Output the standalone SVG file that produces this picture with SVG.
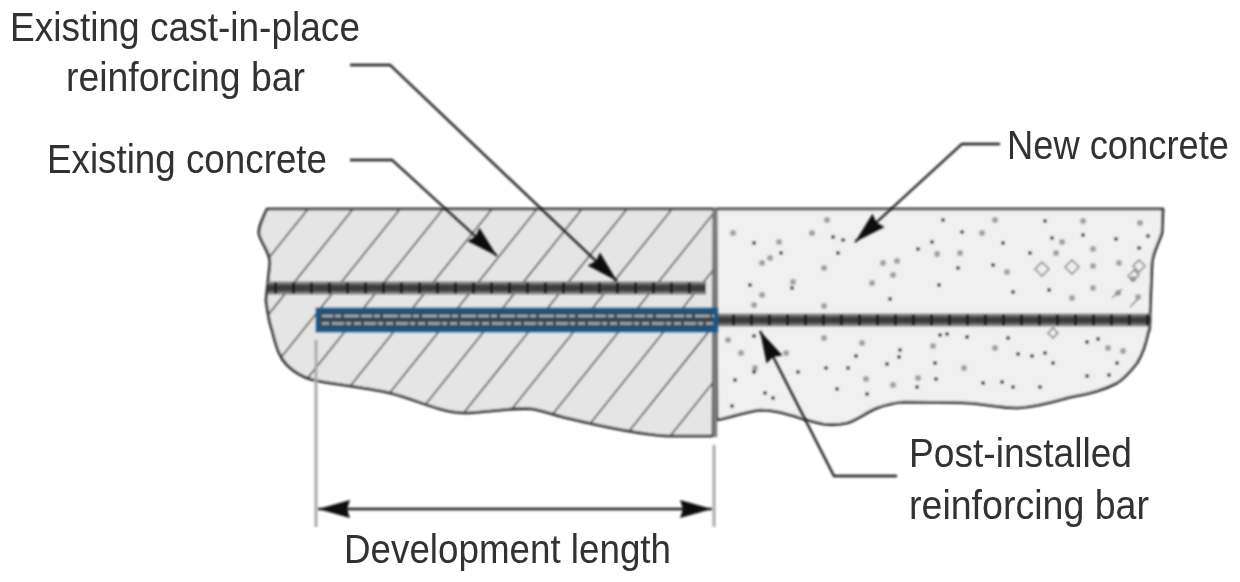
<svg xmlns="http://www.w3.org/2000/svg" width="1240" height="582" viewBox="0 0 1240 582">
<style>
text{font-family:"Liberation Sans",Arial,sans-serif;font-size:40px;fill:#303030}
.out{stroke:#1c1c1c;stroke-width:2.6;stroke-linejoin:round}
.hatch{stroke:#444;stroke-width:1.6;fill:none}
.lead{stroke:#1c1c1c;stroke-width:2.3;fill:none}
.ext{stroke:#aaa;stroke-width:3;fill:none}
.bandcore{stroke:#3e3e3e;stroke-width:7}
.bandhalo{stroke:#7c7c7c;stroke-width:13}
.ribs{stroke:#1c1c1c;stroke-width:3;stroke-dasharray:3 15}
</style>
<defs>
<filter id="soft" x="-5%" y="-5%" width="110%" height="110%"><feGaussianBlur stdDeviation="0.8"/></filter>
<filter id="softtext" x="-5%" y="-20%" width="110%" height="140%"><feGaussianBlur stdDeviation="0.75"/></filter>
<clipPath id="leftClip"><path d="M267 209C262 220 258 228 259 234C262 245 270 252 270 263L266 300C268 315 270 325 272 330C277 350 280 358 287 365C295 373 302 377 313 380C345 386 370 388 390 393C410 398 425 405 440 409C450 412 458 413 467 413C490 412 515 407 533 409C547 412 555 415 567 418C600 426 635 434 667 436L713 436L714 209Z"/></clipPath>
<marker id="ah" markerUnits="userSpaceOnUse" markerWidth="34" markerHeight="20" refX="32" refY="10" orient="auto"><path d="M0 1L32 10L0 19L3 10Z" fill="#0c0c0c"/></marker>
</defs>
<rect width="1240" height="582" fill="#fff"/>
<g filter="url(#soft)">
<g id="existing-concrete-body">
<path class="out" fill="#e5e5e5" d="M267 209C262 220 258 228 259 234C262 245 270 252 270 263L266 300C268 315 270 325 272 330C277 350 280 358 287 365C295 373 302 377 313 380C345 386 370 388 390 393C410 398 425 405 440 409C450 412 458 413 467 413C490 412 515 407 533 409C547 412 555 415 567 418C600 426 635 434 667 436L713 436L714 209Z"/>
<g clip-path="url(#leftClip)">
<path class="hatch" d="M308 209L123 440M353 209L168 440M400 209L215 440M443 209L258 440M492 209L307 440M537 209L352 440M582 209L397 440M627 209L442 440M672 209L487 440M717 209L532 440M762 209L577 440M807 209L622 440M852 209L667 440M897 209L712 440M942 209L757 440"/>
</g>
</g>
<g id="new-concrete-body">
<path class="out" fill="#f0f0f0" d="M716 209L1163 209L1162 233C1158 245 1153 252 1152 263L1150 313C1150 325 1150 330 1148 333C1145 348 1142 355 1137 363C1130 372 1125 378 1117 383C1100 392 1085 394 1067 398C1050 403 1035 407 1017 408C1000 408 985 404 967 403C945 402 925 402 903 402C893 403 885 405 877 408C865 413 857 420 847 423C838 425 830 425 823 424C813 422 808 420 800 418C787 414 775 410 760 410C745 412 732 417 717 420Z"/>
<path fill="none" stroke="#a0a0a0" stroke-width="6" stroke-linecap="round" d="M733 233h.1M779 242h.1M812 233h.1M827 220h.1M770 258h.1M762 263h.1M824 268h.1M793 282h.1M872 283h.1M762 295h.1M754 305h.1M824 306h.1M883 263h.1M897 261h.1M893 275h.1M982 233h.1M995 220h.1M960 253h.1M937 254h.1M1007 272h.1M1062 242h.1M1056 253h.1M1093 249h.1M1083 221h.1M1140 223h.1M1072 298h.1M1093 288h.1M1093 266h.1M1119 263h.1M728 340h.1M741 353h.1M786 353h.1M824 338h.1M862 343h.1M933 346h.1M995 348h.1M1108 348h.1M1123 351h.1M964 368h.1M918 378h.1M893 385h.1M755 368h.1M1133 279h.1M1138 297h.1M1118 293h.1M866 379h.1"/>
<path fill="none" stroke="#333" stroke-width="4" stroke-linecap="round" d="M754 243h.1M781 253h.1M750 285h.1M792 288h.1M838 253h.1M833 237h.1M843 240h.1M932 242h.1M918 249h.1M1003 243h.1M1030 253h.1M1052 238h.1M1083 235h.1M1116 239h.1M1139 248h.1M1148 236h.1M1045 221h.1M943 220h.1M962 232h.1M993 265h.1M958 268h.1M939 285h.1M890 299h.1M1013 292h.1M1049 290h.1M754 336h.1M967 337h.1M1008 338h.1M947 334h.1M1087 342h.1M1098 339h.1M1045 353h.1M1053 363h.1M1018 354h.1M1032 356h.1M1117 363h.1M1087 376h.1M1109 375h.1M935 363h.1M936 379h.1M917 387h.1M900 350h.1M899 357h.1M887 364h.1M856 356h.1M848 368h.1M826 368h.1M837 389h.1M867 394h.1M735 380h.1M754 372h.1M765 393h.1M773 398h.1M732 406h.1M798 372h.1M983 383h.1M1002 382h.1M1013 387h.1M1040 387h.1M940 335h.1"/>
<path fill="none" stroke="#888" stroke-width="1.6" d="M1042 262l7 7l-7 7l-7 -7ZM1072 260l7 7l-7 7l-7 -7ZM1048 333l5 -5l5 5l-5 5ZM1139 260l6 6l-6 6l-6 -6ZM1128 276l6 -6l5 5l-6 6ZM1112 298l10 -9M1130 307l8 -8"/>
</g>
<g id="divider"><line x1="715" y1="209" x2="715" y2="437" stroke="#7d7d7d" stroke-width="4.5"/></g>
<g id="development-extent">
<path class="ext" d="M316 340V527M714 445V527"/>
</g>
<g id="cast-in-place-bar">
<line class="bandhalo" x1="268" y1="288" x2="706" y2="288"/>
<line class="bandcore" x1="268" y1="288" x2="706" y2="288"/>
<line class="ribs" x1="274" y1="288" x2="706" y2="288" style="stroke-width:12"/>
</g>
<g id="post-installed-bar">
<line class="bandhalo" x1="716" y1="320" x2="1150" y2="320"/>
<line class="bandcore" x1="716" y1="320" x2="1150" y2="320"/>
<line class="ribs" x1="732" y1="320" x2="1150" y2="320" style="stroke-width:12"/>
<rect x="318" y="310" width="398" height="20" fill="#38454f" stroke="#175888" stroke-width="5"/>
<line x1="322" y1="316" x2="714" y2="316" stroke="#a5aeb4" stroke-width="2.4" stroke-dasharray="11 2 6 3 15 2"/>
<line x1="322" y1="323.5" x2="714" y2="323.5" stroke="#a5aeb4" stroke-width="2.4" stroke-dasharray="7 3 12 2 5 3"/>
</g>
</g>
<g id="connectors" filter="url(#soft)">
<path class="lead" marker-end="url(#ah)" d="M350 65H390L617 281"/>
<path class="lead" marker-end="url(#ah)" d="M350 160H392L497 256"/>
<path class="lead" marker-end="url(#ah)" d="M1000 144H962L855 242"/>
<path class="lead" marker-end="url(#ah)" d="M897 476H834L760 331"/>
<path class="lead" marker-end="url(#ah)" d="M515 509H318"/>
<path class="lead" marker-end="url(#ah)" d="M515 509H712"/>
</g>
<g filter="url(#softtext)">
<g id="label-cast-in-place"><text x="10" y="41" textLength="350" lengthAdjust="spacingAndGlyphs">Existing cast-in-place</text><text x="66" y="91" textLength="239" lengthAdjust="spacingAndGlyphs">reinforcing bar</text></g>
<g id="label-existing-concrete"><text x="47" y="173" textLength="280" lengthAdjust="spacingAndGlyphs">Existing concrete</text></g>
<g id="label-new-concrete"><text transform="translate(1007 159) scale(.908 1)">New concrete</text></g>
<g id="label-post-installed"><text x="909" y="467" textLength="223" lengthAdjust="spacingAndGlyphs">Post-installed</text><text x="909" y="519" textLength="240" lengthAdjust="spacingAndGlyphs">reinforcing bar</text></g>
<g id="label-development-length"><text x="344" y="563" textLength="327" lengthAdjust="spacingAndGlyphs">Development length</text></g>
</g>
</svg>
